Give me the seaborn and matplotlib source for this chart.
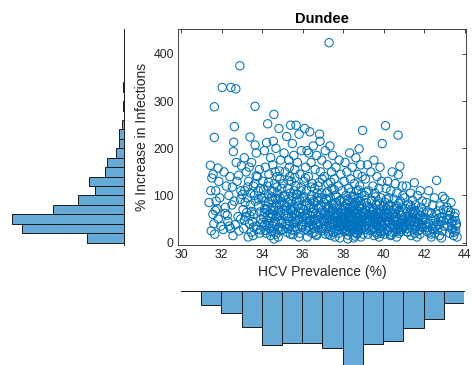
import numpy as np
import pandas as pd
import matplotlib
matplotlib.use("Agg")
import matplotlib.pyplot as plt
import seaborn as sns

# ---------------- data ----------------
hcv_prevalence = [
    31.45, 31.52, 31.47, 31.71, 31.64, 31.64, 31.38, 31.57, 31.62, 31.49, 31.77, 31.83, 31.91, 31.86, 31.66, 31.96,
    32.03, 32.46, 32.70, 32.90, 32.63, 32.60, 32.58, 32.72, 32.98, 32.12, 32.23, 32.36, 32.51, 32.17, 32.31, 32.44,
    32.56, 32.81, 32.93, 32.76, 32.41, 32.19, 32.67, 32.86, 32.95, 32.08,
    33.40, 33.65, 33.65, 33.12, 33.21, 33.33, 33.48, 33.71, 33.86, 33.14, 33.27, 33.42, 33.57, 33.61, 33.77, 33.92,
    33.06, 33.19, 33.37, 33.46, 33.59, 33.69, 33.82, 33.94, 33.09, 33.31, 33.52, 33.66, 33.87, 33.89, 33.16, 33.44,
    33.74, 33.55, 33.24, 33.97, 33.36, 33.81,
    34.27, 34.22, 34.55, 34.58, 34.83, 34.11, 34.42, 34.68, 34.91, 34.16, 34.33, 34.52, 34.64, 34.87, 34.04, 34.26,
    34.47, 34.61, 34.76, 34.96, 34.09, 34.31, 34.49, 34.72, 34.89, 34.21, 34.38, 34.56, 34.81, 34.06, 34.24, 34.46,
    34.66, 34.84, 34.14, 34.36, 34.53, 34.77, 34.94, 34.19, 34.41, 34.62, 34.79, 34.12, 34.29, 34.51, 34.71, 34.92,
    34.34, 34.67, 34.44, 34.86, 34.23, 34.74, 34.59,
    35.40, 35.67, 35.21, 35.49, 35.82, 35.08, 35.31, 35.56, 35.74, 35.93, 35.13, 35.36, 35.61, 35.86, 35.04, 35.26,
    35.44, 35.66, 35.91, 35.11, 35.29, 35.52, 35.71, 35.96, 35.18, 35.41, 35.58, 35.79, 35.06, 35.24, 35.46, 35.64,
    35.84, 35.16, 35.34, 35.54, 35.76, 35.94, 35.22, 35.39, 35.62, 35.81, 35.28, 35.51, 35.69, 35.89, 35.09, 35.43,
    35.73, 35.57, 35.33, 35.63, 35.87, 35.27, 35.97,
    36.10, 36.35, 36.83, 36.85, 36.52, 36.21, 36.69, 36.94, 36.41, 36.14, 36.61, 36.87, 36.28, 36.06, 36.48, 36.76,
    36.96, 36.19, 36.44, 36.71, 36.91, 36.09, 36.33, 36.58, 36.81, 36.03, 36.24, 36.51, 36.74, 36.97, 36.16, 36.39,
    36.62, 36.86, 36.31, 36.56, 36.79, 36.12, 36.46, 36.68, 36.92, 36.23, 36.37, 36.54, 36.66, 36.42, 36.01, 36.26,
    36.84, 36.93, 36.59, 36.29, 36.17, 36.49, 36.73,
    37.30, 37.34, 37.11, 37.48, 37.79, 37.21, 37.64, 37.42, 37.88, 37.06, 37.56, 37.24, 37.76, 37.44, 37.94, 37.16,
    37.61, 37.36, 37.84, 37.04, 37.51, 37.27, 37.69, 37.96, 37.09, 37.39, 37.66, 37.91, 37.19, 37.47, 37.74, 37.07,
    37.32, 37.54, 37.86, 37.14, 37.41, 37.63, 37.97, 37.26, 37.49, 37.77, 37.12, 37.37, 37.59, 37.83, 37.22, 37.46,
    37.71, 37.93, 37.29, 37.57, 37.81, 37.03, 37.62, 37.33, 37.89, 37.17, 37.52, 37.68,
    38.95, 38.78, 38.31, 38.62, 38.09, 38.86, 38.44, 38.18, 38.71, 38.93, 38.36, 38.04, 38.54, 38.81, 38.26, 38.66,
    38.91, 38.14, 38.47, 38.74, 38.06, 38.29, 38.59, 38.88, 38.21, 38.52, 38.79, 38.11, 38.39, 38.69, 38.96, 38.24,
    38.56, 38.84, 38.16, 38.43, 38.76, 38.03, 38.34, 38.64, 38.94, 38.19, 38.49, 38.82, 38.12, 38.41, 38.72, 38.28,
    38.61, 38.89, 38.13, 38.46, 38.77, 38.07, 38.33, 38.67, 38.97, 38.23, 38.57, 38.87, 38.51, 38.22, 38.38, 38.63,
    38.83, 38.27, 38.73, 38.08, 38.92, 38.48, 38.37, 38.68, 38.17, 38.85, 38.42, 38.58, 38.25, 38.75, 38.98, 38.02,
    39.92, 39.51, 39.19, 39.81, 39.36, 39.66, 39.09, 39.89, 39.46, 39.76, 39.24, 39.56, 39.04, 39.86, 39.41, 39.71,
    39.14, 39.61, 39.96, 39.29, 39.49, 39.79, 39.11, 39.39, 39.64, 39.91, 39.21, 39.44, 39.74, 39.06, 39.34, 39.59,
    39.84, 39.16, 39.42, 39.69, 39.94, 39.26, 39.54, 39.82, 39.12, 39.37, 39.62, 39.88, 39.22, 39.52, 39.77, 39.31,
    39.57, 39.87, 39.47, 39.67, 39.07, 39.97, 39.27,
    40.08, 40.70, 40.79, 40.71, 40.41, 40.19, 40.56, 40.91, 40.11, 40.34, 40.64, 40.94, 40.24, 40.51, 40.81, 40.06,
    40.29, 40.61, 40.86, 40.14, 40.46, 40.76, 40.96, 40.21, 40.49, 40.82, 40.09, 40.36, 40.66, 40.89, 40.26, 40.54,
    40.84, 40.04, 40.39, 40.69, 40.93, 40.31, 40.59, 40.88, 40.16, 40.44, 40.74, 40.03, 40.33, 40.63, 40.57, 40.23,
    40.78, 40.13, 40.47, 40.72,
    41.50, 41.11, 41.79, 41.31, 41.66, 41.04, 41.41, 41.89, 41.21, 41.56, 41.84, 41.09, 41.36, 41.71, 41.94, 41.26,
    41.49, 41.81, 41.06, 41.39, 41.64, 41.91, 41.16, 41.46, 41.74, 41.29, 41.61, 41.92, 41.12, 41.42, 41.69, 41.19,
    41.52, 41.78, 41.34, 41.63, 41.54, 41.24, 41.86, 41.44,
    42.60, 42.90, 43.00, 42.21, 42.49, 42.09, 42.41, 42.76, 42.94, 42.14, 42.36, 42.61, 42.86, 42.04, 42.31, 42.56,
    42.81, 42.19, 42.46, 42.71, 42.96, 42.11, 42.39, 42.66, 42.89, 42.26, 42.51, 42.74, 42.34, 42.84,
    43.11, 43.29, 43.48, 43.21, 43.39, 43.58, 43.14, 43.34, 43.54, 43.24, 43.44, 43.61, 43.51, 43.31,
    # denser core
    31.58, 31.73, 31.82, 32.28, 32.53, 32.84, 32.38, 32.62, 31.69, 32.94,
    33.13, 33.58, 33.28, 33.83, 33.47, 33.71, 33.02, 33.92, 33.39, 33.64,
    34.13, 34.57, 34.32, 34.91, 34.68, 34.07, 34.48, 34.81, 34.26, 34.73, 34.39, 34.96, 34.18, 34.62, 34.85, 34.03,
    34.54, 34.29, 34.77, 34.45, 34.93, 34.11,
    35.12, 35.47, 35.83, 35.31, 35.68, 35.05, 35.58, 35.92, 35.23, 35.74, 35.38, 35.97, 35.16, 35.61, 35.89, 35.27,
    35.52, 35.78, 35.43, 35.01, 35.69, 35.34,
    36.08, 36.43, 36.78, 36.22, 36.63, 36.94, 36.34, 36.57, 36.88, 36.13, 36.47, 36.72, 36.27, 36.95, 36.53, 36.18,
    36.82, 36.38, 36.67, 36.04, 36.58, 36.89,
    37.08, 37.43, 37.78, 37.23, 37.58, 37.92, 37.31, 37.67, 37.15, 37.53, 37.87, 37.38, 37.73, 37.02, 37.47, 37.82,
    37.28, 37.62, 37.95, 37.18, 37.55, 37.85, 37.36, 37.72, 37.11,
    38.07, 38.42, 38.78, 38.23, 38.58, 38.93, 38.32, 38.68, 38.15, 38.53, 38.88, 38.37, 38.72, 38.04, 38.47, 38.83,
    38.28, 38.63, 38.97, 38.19, 38.55, 38.86, 38.33, 38.74, 38.11, 38.49, 38.91, 38.26, 38.66, 38.44,
    39.08, 39.43, 39.78, 39.23, 39.58, 39.93, 39.32, 39.68, 39.13, 39.53, 39.87, 39.38, 39.73, 39.03, 39.48, 39.83,
    39.28, 39.63, 39.96, 39.18, 39.55, 39.85,
    40.07, 40.43, 40.78, 40.22, 40.58, 40.93, 40.32, 40.68, 40.13, 40.53, 40.87, 40.38, 40.73, 40.02, 40.48, 40.83,
    40.27, 40.62, 40.97, 40.18,
    41.08, 41.43, 41.78, 41.23, 41.58, 41.93, 41.32, 41.68, 41.13, 41.53, 41.87, 41.38, 41.73, 41.03,
    42.07, 42.43, 42.78, 42.23, 42.58, 42.93, 42.33, 42.68, 42.13, 42.53,
    43.08, 43.38, 43.56, 43.22, 43.46, 43.18, 43.33, 43.52,
]
pct_increase = [
    164, 137, 110, 110, 223, 288, 85, 60, 40, 25, 72, 50, 95, 130, 18, 35,
    329, 329, 326, 375, 246, 213, 193, 170, 163, 150, 120, 100, 80, 62, 45, 30,
    15, 55, 92, 130, 140, 75, 38, 25, 110, 28,
    224, 207, 289, 180, 150, 130, 170, 190, 155, 110, 95, 80, 120, 100, 140, 115,
    70, 55, 40, 22, 60, 35, 78, 50, 30, 12, 45, 88, 20, 65, 85, 105,
    28, 15, 64, 95, 160, 110,
    252, 212, 215, 272, 242, 195, 180, 200, 175, 160, 145, 165, 150, 135, 130, 120,
    110, 125, 105, 115, 95, 85, 90, 80, 95, 70, 62, 75, 68, 55, 48, 52,
    45, 58, 38, 30, 35, 28, 40, 20, 15, 22, 12, 72, 102, 60, 55, 25,
    40, 92, 72, 82, 35, 140, 8,
    249, 249, 225, 210, 230, 190, 175, 185, 170, 195, 150, 140, 155, 145, 125, 115,
    130, 120, 110, 100, 92, 98, 88, 95, 78, 70, 75, 65, 60, 52, 55, 48,
    50, 40, 35, 42, 30, 38, 22, 18, 25, 12, 62, 68, 58, 72, 82, 82,
    102, 110, 45, 32, 20, 30, 55,
    242, 235, 230, 215, 205, 195, 185, 175, 170, 160, 155, 150, 140, 130, 125, 120,
    135, 110, 100, 105, 95, 88, 80, 85, 75, 70, 62, 65, 58, 68, 52, 45,
    50, 42, 35, 30, 38, 28, 20, 15, 25, 12, 58, 72, 40, 92, 45, 25,
    55, 30, 115, 190, 78, 38, 88,
    424, 205, 195, 185, 175, 165, 160, 150, 145, 140, 135, 125, 120, 115, 110, 105,
    100, 95, 90, 85, 80, 75, 78, 70, 65, 62, 60, 55, 52, 50, 48, 45,
    42, 40, 38, 35, 32, 30, 28, 25, 22, 20, 18, 15, 12, 10, 58, 68,
    45, 62, 72, 55, 35, 30, 85, 48, 42, 92, 38, 25,
    238, 199, 190, 180, 170, 165, 160, 150, 145, 140, 135, 130, 125, 120, 115, 110,
    105, 100, 98, 95, 90, 88, 85, 82, 80, 78, 75, 72, 70, 68, 65, 62,
    60, 58, 56, 55, 52, 50, 48, 46, 45, 43, 42, 40, 38, 36, 35, 33,
    32, 30, 28, 27, 25, 24, 22, 20, 18, 16, 14, 12, 10, 8, 58, 52,
    62, 42, 28, 45, 38, 68, 75, 88, 65, 48, 35, 22, 52, 78, 55, 35,
    210, 175, 165, 160, 150, 140, 135, 130, 120, 115, 110, 105, 100, 95, 90, 88,
    85, 80, 78, 75, 72, 70, 68, 65, 62, 60, 58, 55, 52, 50, 48, 46,
    45, 42, 40, 38, 36, 35, 32, 30, 28, 25, 22, 20, 18, 15, 12, 60,
    42, 55, 30, 50, 38, 25, 45,
    248, 228, 162, 144, 150, 130, 125, 120, 115, 110, 105, 100, 95, 92, 88, 85,
    80, 78, 75, 72, 70, 68, 65, 62, 60, 58, 55, 52, 50, 48, 46, 45,
    42, 40, 38, 36, 35, 32, 30, 28, 25, 22, 20, 18, 15, 12, 55, 42,
    32, 60, 48, 40,
    127, 120, 110, 105, 100, 95, 90, 88, 82, 80, 75, 72, 70, 68, 65, 62,
    60, 58, 55, 52, 50, 48, 45, 42, 40, 38, 35, 32, 30, 28, 25, 22,
    20, 18, 15, 12, 45, 50, 38, 65,
    132, 98, 93, 110, 95, 85, 80, 78, 70, 65, 62, 60, 55, 52, 50, 48,
    45, 42, 40, 38, 35, 32, 30, 28, 25, 22, 20, 15, 12, 10,
    75, 65, 55, 50, 45, 40, 35, 30, 25, 20, 15, 12, 62, 85,
    # denser core
    145, 88, 158, 58, 118, 143, 35, 88, 68, 50,
    48, 33, 118, 92, 66, 142, 102, 27, 57, 125,
    88, 41, 128, 63, 18, 112, 97, 33, 77, 118, 53, 87, 26, 68, 152, 43,
    108, 58, 92, 24, 47, 64,
    68, 27, 92, 132, 44, 97, 61, 118, 38, 78, 105, 33, 56, 138, 63, 85,
    17, 49, 72, 28, 102, 160,
    57, 118, 33, 84, 62, 105, 47, 22, 78, 137, 64, 96, 32, 52, 88, 42,
    128, 73, 18, 98, 48, 63,
    58, 83, 27, 108, 43, 68, 36, 97, 77, 22, 52, 128, 62, 47, 73, 88,
    18, 54, 33, 92, 112, 64, 57, 41, 29,
    63, 28, 47, 92, 37, 73, 53, 18, 82, 67, 27, 107, 57, 44, 33, 88,
    72, 43, 62, 25, 97, 36, 63, 112, 52, 77, 42, 33, 68, 48,
    63, 27, 82, 47, 97, 33, 72, 18, 107, 57, 43, 88, 62, 33, 68, 23,
    52, 37, 57, 78, 45, 65,
    53, 33, 63, 78, 23, 43, 68, 28, 92, 47, 57, 17, 83, 63, 38, 24,
    56, 72, 31, 44,
    43, 63, 27, 57, 33, 52, 78, 43, 23, 68, 33, 47, 57, 36,
    43, 28, 53, 63, 37, 47, 18, 67, 24, 33,
    48, 28, 36, 57, 22, 68, 42, 47,
]

# marginal histograms (bin edges and counts)
x_bin_edges = [30, 31, 32, 33, 34, 35, 36, 37, 38, 39, 40, 41, 42, 43, 44]
x_bin_counts = [0, 25, 40, 65, 98, 94, 94, 103, 154, 96, 91, 67, 51, 22]
y_bin_edges = [0, 20, 40, 60, 80, 100, 120, 140, 160, 180, 200, 220, 240,
               260, 280, 300, 320, 340, 360, 380, 400, 420, 440]
y_bin_counts = [75, 207, 228, 144, 93, 59, 71, 39, 35, 16, 10, 10, 5,
                1, 2, 0, 3, 0, 1, 0, 0, 1]

title_text = "Dundee"
x_label = "HCV Prevalence (%)"
y_label = "% Increase in Infections"
x_ticks = [30, 32, 34, 36, 38, 40, 42, 44]
y_ticks = [0, 100, 200, 300, 400]

# ---------------- style ----------------
sns.set_style("white")
plt.rcParams['font.family'] = ['Liberation Sans', 'DejaVu Sans']

SCAT = '#0072BD'
HIST = (0.40, 0.668, 0.845)
AXC = '#262626'

W, H = 472, 365
fig = plt.figure(figsize=(W / 100, H / 100), dpi=100)

def box(l, t, r, b):
    return [l / W, 1 - b / H, (r - l) / W, (b - t) / H]

ax_sc = fig.add_axes(box(178, 29, 466, 245))
ax_left = fig.add_axes(box(10, 29, 124, 245))
ax_bot = fig.add_axes(box(181, 291, 464, 365))

df = pd.DataFrame({'hcv': hcv_prevalence, 'inc': pct_increase})
sns.scatterplot(data=df, x='hcv', y='inc', ax=ax_sc, marker='o', s=36,
                facecolor='none', edgecolor=SCAT, linewidth=0.75, legend=False)
for c in ax_sc.collections:
    c.set_facecolor('none')
    c.set_edgecolor(SCAT)

ax_sc.set_xlim(29.85, 44.05)
ax_sc.set_ylim(-5, 453)
ax_sc.set_xticks(x_ticks)
ax_sc.set_yticks(y_ticks)
ax_sc.tick_params(direction='in', length=3, width=0.6, top=True, right=True,
                  labelsize=8.8, colors=AXC, pad=3)
for s in ax_sc.spines.values():
    s.set_color(AXC)
    s.set_linewidth(0.6)
    s.set_visible(True)
ax_sc.set_xlabel(x_label, fontsize=10, color=AXC, labelpad=3)
ax_sc.set_ylabel(y_label, fontsize=10, color=AXC, labelpad=3)
ax_sc.set_title(title_text, fontsize=10.5, fontweight='bold', color='black', pad=4)

# bottom histogram (x)
x_centers = [(a + b) / 2 for a, b in zip(x_bin_edges[:-1], x_bin_edges[1:])]
sns.histplot(x=x_centers, weights=x_bin_counts, bins=x_bin_edges, ax=ax_bot,
             color=HIST, edgecolor='#1a1a1a', linewidth=0.7, alpha=1)
ax_bot.set_xlim(30, 44)
ax_bot.set_ylim(134, 0)
ax_bot.set_xticks([]); ax_bot.set_yticks([])
ax_bot.set_xlabel(''); ax_bot.set_ylabel('')
for k, s in ax_bot.spines.items():
    s.set_visible(k == 'top')
    s.set_color('#1a1a1a'); s.set_linewidth(0.7)
ax_bot.patch.set_alpha(0)

# left histogram (y)
y_centers = [(a + b) / 2 for a, b in zip(y_bin_edges[:-1], y_bin_edges[1:])]
sns.histplot(y=y_centers, weights=y_bin_counts, bins=y_bin_edges, ax=ax_left,
             color=HIST, edgecolor='#1a1a1a', linewidth=0.7, alpha=1)
ax_left.set_xlim(232, 0)
ax_left.set_ylim(-5, 453)
ax_left.set_xticks([]); ax_left.set_yticks([])
ax_left.set_xlabel(''); ax_left.set_ylabel('')
for k, s in ax_left.spines.items():
    s.set_visible(k == 'right')
    s.set_color('#1a1a1a'); s.set_linewidth(0.7)
ax_left.patch.set_alpha(0)

fig.savefig('out.png', dpi=100)
